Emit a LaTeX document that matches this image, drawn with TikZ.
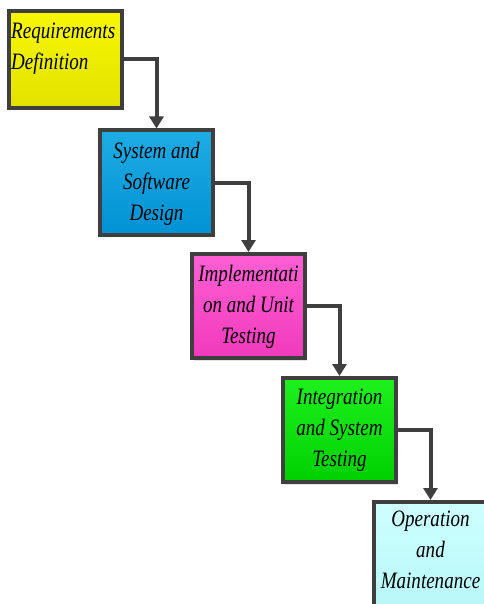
\documentclass[tikz,border=0pt]{standalone}
\usepackage{fontspec}
\newfontfamily\phasefont{Liberation Serif}[FakeStretch=0.81]
\usetikzlibrary{arrows.meta,shadows}
\definecolor{edge}{HTML}{3F3F3F}
\begin{document}
\begin{tikzpicture}[x=1pt,y=-1pt,
  phase/.style={rectangle, draw=edge, line width=4pt, inner sep=0pt,
    minimum width=113pt, minimum height=104pt,
    drop shadow={shadow xshift=2pt, shadow yshift=-2.5pt, opacity=0.22}},
  phasetext/.style={inner sep=0pt, align=center,
    font=\phasefont\itshape\fontsize{23.5}{31}\selectfont},
  flow/.style={draw=edge, line width=4pt,
    -{Triangle[length=12pt,width=14pt]}}]
  \useasboundingbox (0,0) rectangle (483,604);

  % process phases, top to bottom
  \node[phase, minimum height=97pt, top color={rgb,255:red,247;green,247;blue,0},
        bottom color={rgb,255:red,226;green,226;blue,0}] (req) at (65.5,59.5) {};
  \node[phase, top color={rgb,255:red,30;green,172;blue,228},
        bottom color={rgb,255:red,0;green,146;blue,212}] (des) at (156.5,182.5) {};
  \node[phase, top color={rgb,255:red,255;green,96;blue,212},
        bottom color={rgb,255:red,240;green,58;blue,188}] (imp) at (248.5,306) {};
  \node[phase, top color={rgb,255:red,30;green,240;blue,30},
        bottom color={rgb,255:red,0;green,208;blue,0}] (int) at (339.5,430) {};
  \node[phase, top color={rgb,255:red,206;green,255;blue,255},
        bottom color={rgb,255:red,184;green,248;blue,248}] (ops) at (430.5,554) {};

  % phase labels
  \node[phasetext, align=left, anchor=north west] (reqt) at (11,22.5)
    {Requirements\\Definition};
  \node[phasetext] (dest) at (156.5,184) {System and\\Software\\Design};
  \node[phasetext] (impt) at (248.5,307) {Implementati\\on and Unit\\Testing};
  \node[phasetext] (intt) at (339.5,430) {Integration\\and System\\Testing};
  \node[phasetext] (opst) at (430.5,550) {Operation\\and\\Maintenance};

  % cascading hand-offs
  \draw[flow] (req.east) -| (des.north);
  \draw[flow] (des.east) -| (imp.north);
  \draw[flow] (imp.east) -| (int.north);
  \draw[flow] (int.east) -| (ops.north);
\end{tikzpicture}
\end{document}
